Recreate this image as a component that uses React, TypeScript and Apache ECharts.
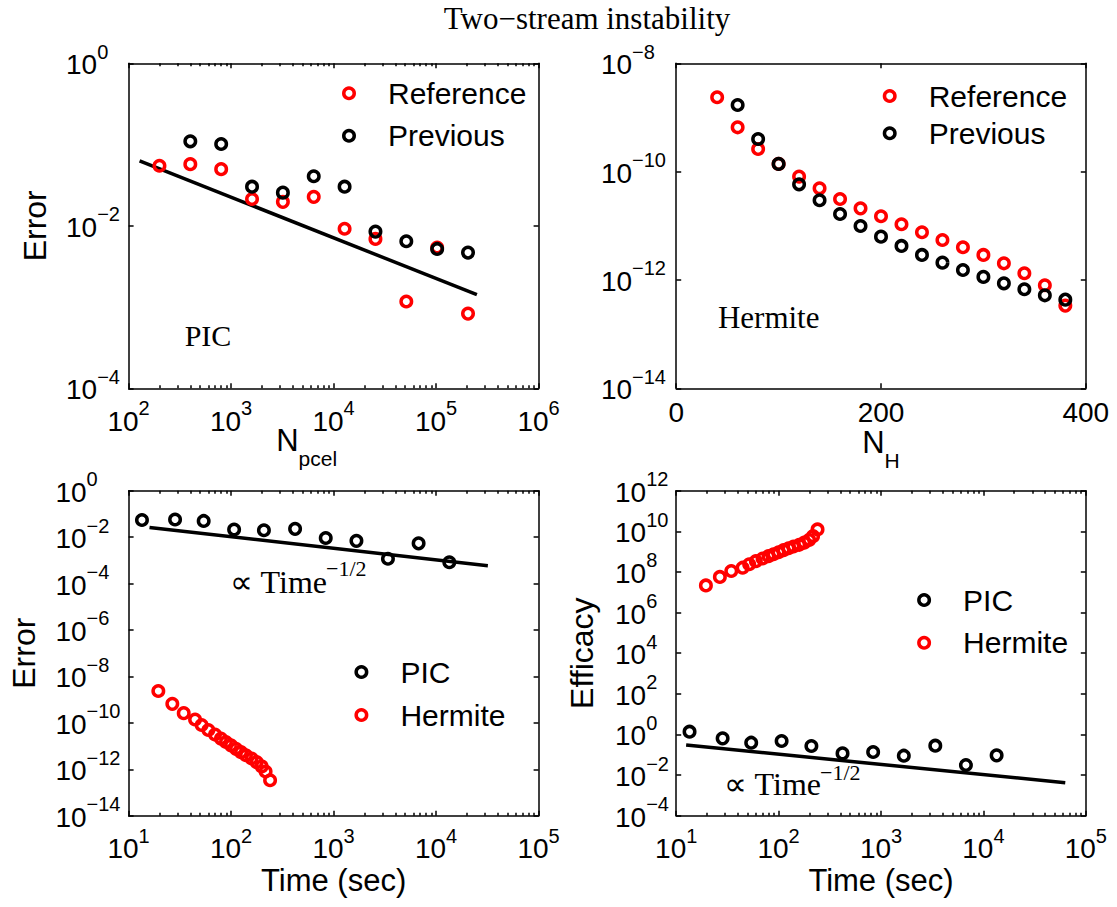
import React, { useEffect, useRef } from 'react';
import * as echarts from 'echarts';

// ---------- data ----------
// top-left: PIC error vs number of particles per cell
const npcel = [200, 400, 800, 1600, 3200, 6400, 12800, 25600, 51200, 102400, 204800];
const picErr = [0.0548, 0.0574, 0.0498, 0.0214, 0.0197, 0.0227, 0.0092, 0.0069, 0.00117, 0.0054, 0.00083];
const picPrevN = [400, 800, 1600, 3200, 6400, 12800, 25600, 51200, 102400, 204800];
const picPrevErr = [0.1096, 0.1017, 0.0303, 0.0256, 0.0407, 0.0303, 0.00848, 0.00645, 0.00519, 0.00468];
const picFitN = [128, 250000];
const picFitErr = [0.063, 0.00142];

// top-right: Hermite error vs number of Hermite modes
const nH = [40, 60, 80, 100, 120, 140, 160, 180, 200, 220, 240, 260, 280, 300, 320, 340, 360, 380];
const hermErr = [2.36e-9, 6.58e-10, 2.62e-10, 1.39e-10, 8.09e-11, 4.92e-11, 3.13e-11, 2.1e-11, 1.5e-11, 1.07e-11, 7.59e-12, 5.47e-12, 4.01e-12, 2.9e-12, 2.03e-12, 1.33e-12, 7.98e-13, 3.36e-13];
const hermPrevN = [60, 80, 100, 120, 140, 160, 180, 200, 220, 240, 260, 280, 300, 320, 340, 360, 380];
const hermPrevErr = [1.7e-9, 4.01e-10, 1.39e-10, 5.83e-11, 2.96e-11, 1.65e-11, 9.93e-12, 6.31e-12, 4.25e-12, 2.9e-12, 2.09e-12, 1.53e-12, 1.14e-12, 8.67e-13, 6.73e-13, 5.21e-13, 4.33e-13];

// bottom: run times
const picTime = [13.5, 28.4, 54, 107, 209, 421, 838, 1670, 3390, 6750, 13460];
const hermTime = [19.5, 26.7, 34.5, 44.5, 51.6, 60, 69.7, 79.6, 89.1, 99.8, 111.7, 125, 139.7, 158.8, 177.7, 198.8, 217, 240];
const errFitTime = [16, 32000];
const errFitVal = [0.026, 0.00058];

// bottom-right: efficacy
const picEff = [1.37, 0.643, 0.393, 0.475, 0.269, 0.117, 0.136, 0.09, 0.28, 0.0313, 0.0935];
const hermEff = [2.17e7, 5.69e7, 1.11e8, 1.62e8, 2.4e8, 3.39e8, 4.58e8, 5.98e8, 7.48e8, 9.36e8, 1.18e9, 1.46e9, 1.79e9, 2.17e9, 2.77e9, 3.78e9, 5.78e9, 1.24e10];
const effFitTime = [12.5, 63000];
const effFitVal = [0.3, 0.0042];

// tick values
const ticksNpcel = [1e2, 1e3, 1e4, 1e5, 1e6];
const ticksErrPIC = [1e-4, 1e-2, 1e0];
const ticksNH = [0, 200, 400];
const ticksErrH = [1e-14, 1e-12, 1e-10, 1e-8];
const ticksTime = [1e1, 1e2, 1e3, 1e4, 1e5];
const ticksErrTime = [1e-14, 1e-12, 1e-10, 1e-8, 1e-6, 1e-4, 1e-2, 1e0];
const ticksEff = [1e-4, 1e-2, 1e0, 1e2, 1e4, 1e6, 1e8, 1e10, 1e12];

// ---------- styling helpers ----------
const FONT = "'Liberation Sans', Arial, Helvetica, sans-serif";
const SERIF = "'Liberation Serif', 'Times New Roman', Times, serif";
const RED = '#ff0000';
const BLACK = '#000000';

const zip = (xs: number[], ys: number[]) => xs.map((x, i) => [x, ys[i]]);
const minorsOf = (majors: number[]) => {
  const out: number[] = [];
  for (let i = 0; i < majors.length - 1; i++) {
    for (let k = 2; k <= 9; k++) out.push(majors[i] * k);
  }
  return out;
};
const supFmt = (v: number) => {
  const e = Math.round(Math.log10(v));
  return `{b|10}{s|${e < 0 ? '\u2212' + -e : e}}`;
};
const supRich = {
  b: { fontSize: 28, fontFamily: FONT, color: BLACK, verticalAlign: 'bottom', lineHeight: 37 },
  s: { fontSize: 20, fontFamily: FONT, color: BLACK, verticalAlign: 'top' },
};
const nameRich = {
  n: { fontSize: 31, fontFamily: FONT, color: BLACK, verticalAlign: 'top', lineHeight: 44 },
  s: { fontSize: 21, fontFamily: FONT, color: BLACK, verticalAlign: 'bottom' },
};

const GRIDS = [
  { left: 128.6, top: 63.3, width: 410, height: 325 },
  { left: 676.2, top: 63.3, width: 409.6, height: 325 },
  { left: 128.6, top: 490.7, width: 410, height: 325 },
  { left: 676.2, top: 490.7, width: 409.6, height: 325 },
];

const lineStyle = { color: BLACK, width: 1.5 };

function makeX(grid: number, type: string, min: number, max: number, ticks: number[], opts: any) {
  const axes: any[] = [];
  const base = { type, gridIndex: grid, min, max, splitLine: { show: false }, silent: true };
  const isLog = type === 'log';
  axes.push({
    ...base,
    position: 'bottom',
    axisLine: { show: true, onZero: false, lineStyle },
    axisTick: { show: true, inside: true, length: 5, customValues: ticks, lineStyle },
    axisLabel: {
      show: true,
      customValues: ticks,
      formatter: isLog ? supFmt : (v: number) => String(v),
      rich: supRich,
      fontSize: 28,
      fontFamily: FONT,
      color: BLACK,
      margin: 10,
      hideOverlap: false,
      showMinLabel: true,
      showMaxLabel: true,
    },
    nameLocation: 'middle',
    nameMoveOverlap: false,
    ...opts,
  });
  axes.push({
    ...base,
    position: 'top',
    axisLine: { show: true, onZero: false, lineStyle },
    axisTick: { show: true, inside: true, length: 5, customValues: ticks, lineStyle },
    axisLabel: { show: false },
  });
  if (isLog) {
    const minors = minorsOf(ticks);
    for (const pos of ['bottom', 'top']) {
      axes.push({
        ...base,
        position: pos,
        axisLine: { show: false, onZero: false },
        axisTick: { show: true, inside: true, length: 3, customValues: minors, lineStyle },
        axisLabel: { show: false },
      });
    }
  }
  return axes;
}

function makeY(grid: number, min: number, max: number, ticks: number[], margin: number, opts: any) {
  const base = { type: 'log', gridIndex: grid, min, max, splitLine: { show: false }, silent: true };
  return [
    {
      ...base,
      position: 'left',
      axisLine: { show: true, onZero: false, lineStyle },
      axisTick: { show: true, inside: true, length: 5, customValues: ticks, lineStyle },
      axisLabel: {
        show: true,
        customValues: ticks,
        formatter: supFmt,
        rich: supRich,
        fontSize: 28,
        fontFamily: FONT,
        color: BLACK,
        align: 'left',
        margin,
        padding: [0, 0, 6, 0],
        hideOverlap: false,
        showMinLabel: true,
        showMaxLabel: true,
      },
      nameLocation: 'middle',
      nameMoveOverlap: false,
      nameTextStyle: { fontSize: 32, fontFamily: FONT, color: BLACK },
      ...opts,
    },
    {
      ...base,
      position: 'right',
      axisLine: { show: true, onZero: false, lineStyle },
      axisTick: { show: true, inside: true, length: 5, customValues: ticks, lineStyle },
      axisLabel: { show: false },
    },
  ];
}

const scatter = (name: string, color: string, data: number[][], xi: number, yi: number) => ({
  type: 'scatter',
  name,
  xAxisIndex: xi,
  yAxisIndex: yi,
  data,
  symbol: 'circle',
  symbolSize: 10.5,
  itemStyle: { color: 'rgba(255,255,255,0)', borderColor: color, borderWidth: 3.5, opacity: 1 },
  emphasis: { disabled: true },
  silent: true,
  z: 3,
});
const fitLine = (data: number[][], xi: number, yi: number) => ({
  type: 'line',
  xAxisIndex: xi,
  yAxisIndex: yi,
  data,
  showSymbol: false,
  symbol: 'none',
  lineStyle: { color: BLACK, width: 3.5 },
  emphasis: { disabled: true },
  silent: true,
  z: 2,
});

const legendBlock = (iconX: number, iconY: number, gap: number, names: string[]) => ({
  orient: 'vertical',
  left: iconX - 7,
  top: iconY - 15,
  padding: 0,
  itemWidth: 68,
  itemHeight: 10.5,
  itemGap: gap - 30,
  icon: 'circle',
  selectedMode: false,
  itemStyle: { borderWidth: 3.5, opacity: 1 },
  textStyle: { fontSize: 30, fontFamily: FONT, color: BLACK },
  data: names,
});

export default function App() {
  const ref = useRef<HTMLDivElement>(null);

  useEffect(() => {
    if (!ref.current) return;
    const chart = echarts.init(ref.current, undefined, { renderer: 'svg' });

    const xAxes: any[] = [];
    const yAxes: any[] = [];
    const xIdx: number[] = [];
    const yIdx: number[] = [];

    // grid 0
    xIdx.push(xAxes.length);
    xAxes.push(
      ...makeX(0, 'log', 1e2, 1e6, ticksNpcel, {
        name: '{n|N}{s|pcel}',
        nameGap: 37,
        nameTextStyle: { rich: nameRich, padding: [0, 54, 0, 0] },
      }),
    );
    yIdx.push(yAxes.length);
    yAxes.push(...makeY(0, 1e-4, 1e0, ticksErrPIC, 62.6, { name: 'Error', nameGap: 78 }));

    // grid 1
    xIdx.push(xAxes.length);
    xAxes.push(
      ...makeX(1, 'value', 0, 400, ticksNH, {
        name: '{n|N}{s|H}',
        nameGap: 39,
        nameTextStyle: { rich: nameRich },
      }),
    );
    yIdx.push(yAxes.length);
    yAxes.push(...makeY(1, 1e-14, 1e-8, ticksErrH, 75.3, {}));

    // grid 2
    xIdx.push(xAxes.length);
    xAxes.push(
      ...makeX(2, 'log', 1e1, 1e5, ticksTime, {
        name: 'Time (sec)',
        nameGap: 49,
        nameTextStyle: { fontSize: 31, fontFamily: FONT, color: BLACK },
      }),
    );
    yIdx.push(yAxes.length);
    yAxes.push(...makeY(2, 1e-14, 1e0, ticksErrTime, 73.2, { name: 'Error', nameGap: 89 }));

    // grid 3
    xIdx.push(xAxes.length);
    xAxes.push(
      ...makeX(3, 'log', 1e1, 1e5, ticksTime, {
        name: 'Time (sec)',
        nameGap: 49,
        nameTextStyle: { fontSize: 31, fontFamily: FONT, color: BLACK },
      }),
    );
    yIdx.push(yAxes.length);
    yAxes.push(...makeY(3, 1e-4, 1e12, ticksEff, 61.2, { name: 'Efficacy', nameGap: 78 }));

    const series = [
      fitLine(zip(picFitN, picFitErr), xIdx[0], yIdx[0]),
      scatter('Reference', RED, zip(npcel, picErr), xIdx[0], yIdx[0]),
      scatter('Previous', BLACK, zip(picPrevN, picPrevErr), xIdx[0], yIdx[0]),

      scatter('Reference', RED, zip(nH, hermErr), xIdx[1], yIdx[1]),
      scatter('Previous', BLACK, zip(hermPrevN, hermPrevErr), xIdx[1], yIdx[1]),

      fitLine(zip(errFitTime, errFitVal), xIdx[2], yIdx[2]),
      scatter('PIC', BLACK, zip(picTime, picErr), xIdx[2], yIdx[2]),
      scatter('Hermite', RED, zip(hermTime, hermErr), xIdx[2], yIdx[2]),

      fitLine(zip(effFitTime, effFitVal), xIdx[3], yIdx[3]),
      scatter('PIC', BLACK, zip(picTime, picEff), xIdx[3], yIdx[3]),
      scatter('Hermite', RED, zip(hermTime, hermEff), xIdx[3], yIdx[3]),
    ];

    const serifText = (text: string, x: number, y: number, size: number, align = 'left') => ({
      type: 'text',
      x,
      y,
      silent: true,
      style: {
        text,
        fontSize: size,
        fontFamily: SERIF,
        fill: BLACK,
        align,
        textAlign: align,
        verticalAlign: 'middle',
        textVerticalAlign: 'middle',
      },
    });

    chart.setOption({
      animation: false,
      title: {
        text: 'Two\u2212stream instability',
        left: 587,
        top: 3,
        textAlign: 'center',
        padding: 0,
        textStyle: { fontFamily: SERIF, fontSize: 31, fontWeight: 'normal', color: BLACK },
      },
      grid: GRIDS.map((g) => ({ ...g, containLabel: false, outerBoundsMode: 'none', show: false })),
      xAxis: xAxes,
      yAxis: yAxes,
      legend: [
        legendBlock(349, 93.3, 42.4, ['Reference', 'Previous']),
        legendBlock(889.7, 96, 37.3, ['Reference', 'Previous']),
        legendBlock(361.4, 672, 43, ['PIC', 'Hermite']),
        legendBlock(924.1, 600, 42.7, ['PIC', 'Hermite']),
      ],
      graphic: [
        serifText('PIC', 208, 335, 30, 'center'),
        serifText('Hermite', 768.7, 317.5, 31, 'center'),
        serifText('\u221D Time', 327, 581.7, 32, 'right'),
        serifText('\u22121/2', 326, 568.4, 22),
        serifText('\u221D Time', 821, 784, 32, 'right'),
        serifText('\u22121/2', 820, 772.5, 22),
      ],
      series,
    });

    return () => {
      chart.dispose();
    };
  }, []);

  return (
    <div
      ref={ref}
      style={{ position: 'absolute', left: 0, top: 0, width: 1117, height: 907, background: '#fff' }}
    />
  );
}
